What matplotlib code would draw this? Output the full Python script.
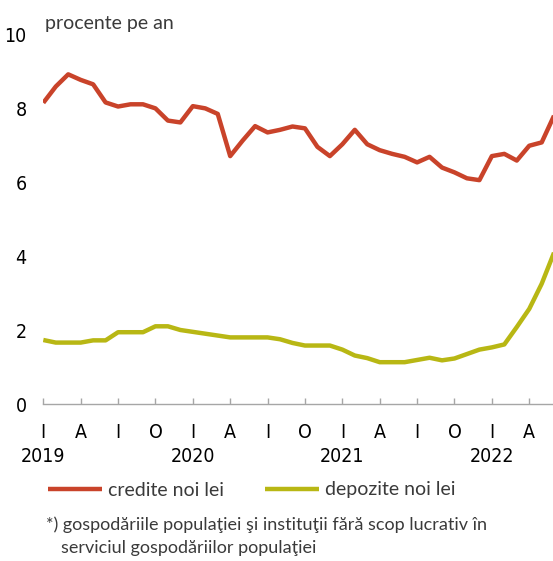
import numpy as np
import matplotlib
matplotlib.use('Agg')
import matplotlib.pyplot as plt
from matplotlib import font_manager

# monthly series, Jan 2019 onwards (percent per year)
credite = [8.14, 8.58, 8.91, 8.76, 8.64, 8.15, 8.04, 8.10, 8.10, 7.99, 7.66, 7.61,
           8.05, 7.99, 7.84, 6.70, 7.12, 7.51, 7.34, 7.41, 7.50, 7.45, 6.95, 6.70,
           7.02, 7.41, 7.02, 6.86, 6.76, 6.68, 6.53, 6.68, 6.39, 6.26, 6.10, 6.05,
           6.70, 6.76, 6.58, 6.98, 7.07, 7.80]
depozite = [1.73, 1.66, 1.66, 1.66, 1.72, 1.72, 1.94, 1.94, 1.94, 2.10, 2.10, 2.00,
            1.95, 1.90, 1.85, 1.80, 1.80, 1.80, 1.80, 1.75, 1.65, 1.58, 1.58, 1.58,
            1.47, 1.31, 1.24, 1.13, 1.13, 1.13, 1.19, 1.25, 1.18, 1.23, 1.35, 1.47,
            1.53, 1.61, 2.08, 2.57, 3.25, 4.10]
quarter_labels = ['I', 'A', 'I', 'O'] * 3 + ['I', 'A']
years = ['2019', '2020', '2021', '2022']
y_ticks = [0, 2, 4, 6, 8, 10]

# look for a narrow sans for the axis numbers, fall back to Roboto
narrow = None
for f in font_manager.fontManager.ttflist:
    cond = (str(f.stretch) in ('condensed', 'semi-condensed', 'extra-condensed')
            or 'Narrow' in f.name or 'Condensed' in f.name)
    if cond and 'Mono' not in f.name and 'Serif' not in f.name and f.style == 'normal' \
            and f.weight in (400, 'normal', 'regular'):
        narrow = font_manager.FontProperties(fname=f.fname, size=14)
        break
if narrow is None:
    narrow = font_manager.FontProperties(family='Roboto', size=14)

text_font = ['Lato', 'DejaVu Sans']
red = '#C9432A'
olive = '#B8B714'
grey_txt = '#3a3a3a'

W, H = 553, 561
fig = plt.figure(figsize=(W / 100, H / 100), dpi=100)
x0, y0 = 43.3, 404  # pixel position of (first month, 0)
ax = fig.add_axes([x0 / W, (H - y0) / H, (W - x0) / W, 370 / H])

x = np.arange(len(credite))
ax.plot(x, credite, color=red, lw=3.2, solid_joinstyle='round', solid_capstyle='butt',
        label='credite noi lei')
ax.plot(x, depozite, color=olive, lw=3.2, solid_joinstyle='round', solid_capstyle='butt',
        label='depozite noi lei')

ax.set_xlim(0, (W - x0) / 12.46)
ax.set_ylim(0, 10)

for s in ['top', 'right', 'left']:
    ax.spines[s].set_visible(False)
ax.spines['bottom'].set_color('#a6a6a6')
ax.spines['bottom'].set_linewidth(1.0)

qpos = np.arange(len(quarter_labels)) * 3
ax.set_xticks(qpos)
ax.set_xticklabels([])
ax.tick_params(axis='x', direction='in', length=4, width=1, color='#a6a6a6')

ax.set_yticks(y_ticks)
ax.set_yticklabels([str(v) for v in y_ticks], fontproperties=narrow, color='black')
ax.tick_params(axis='y', length=0, pad=12)

tr = ax.get_xaxis_transform()
for p, lab in zip(qpos, quarter_labels):
    ax.text(p, -28 / 370, lab, transform=tr, ha='center', va='center',
            fontproperties=narrow, color='black')
for i, yr in enumerate(years):
    ax.text(i * 12, -53 / 370, yr, transform=tr, ha='center', va='center',
            fontproperties=narrow, color='black')

fig.text(45 / W, 1 - 23 / H, 'procente pe an', ha='left', va='center',
         family=text_font, fontsize=14, color=grey_txt)

leg = fig.legend(loc='center left', bbox_to_anchor=(38 / W, 1 - 490 / H), ncol=2,
                 frameon=False, borderpad=0, handlelength=2.8, handletextpad=0.3,
                 columnspacing=2.1, prop={'family': text_font, 'size': 14})
for t in leg.get_texts():
    t.set_color(grey_txt)

fig.text(46 / W, 1 - 525 / H,
         '*) gospodăriile populaţiei şi instituţii fără scop lucrativ în',
         ha='left', va='center', family=text_font, fontsize=13, color=grey_txt)
fig.text(61 / W, 1 - 548 / H, 'serviciul gospodăriilor populaţiei',
         ha='left', va='center', family=text_font, fontsize=13, color=grey_txt)

fig.savefig('out.png', dpi=100)
